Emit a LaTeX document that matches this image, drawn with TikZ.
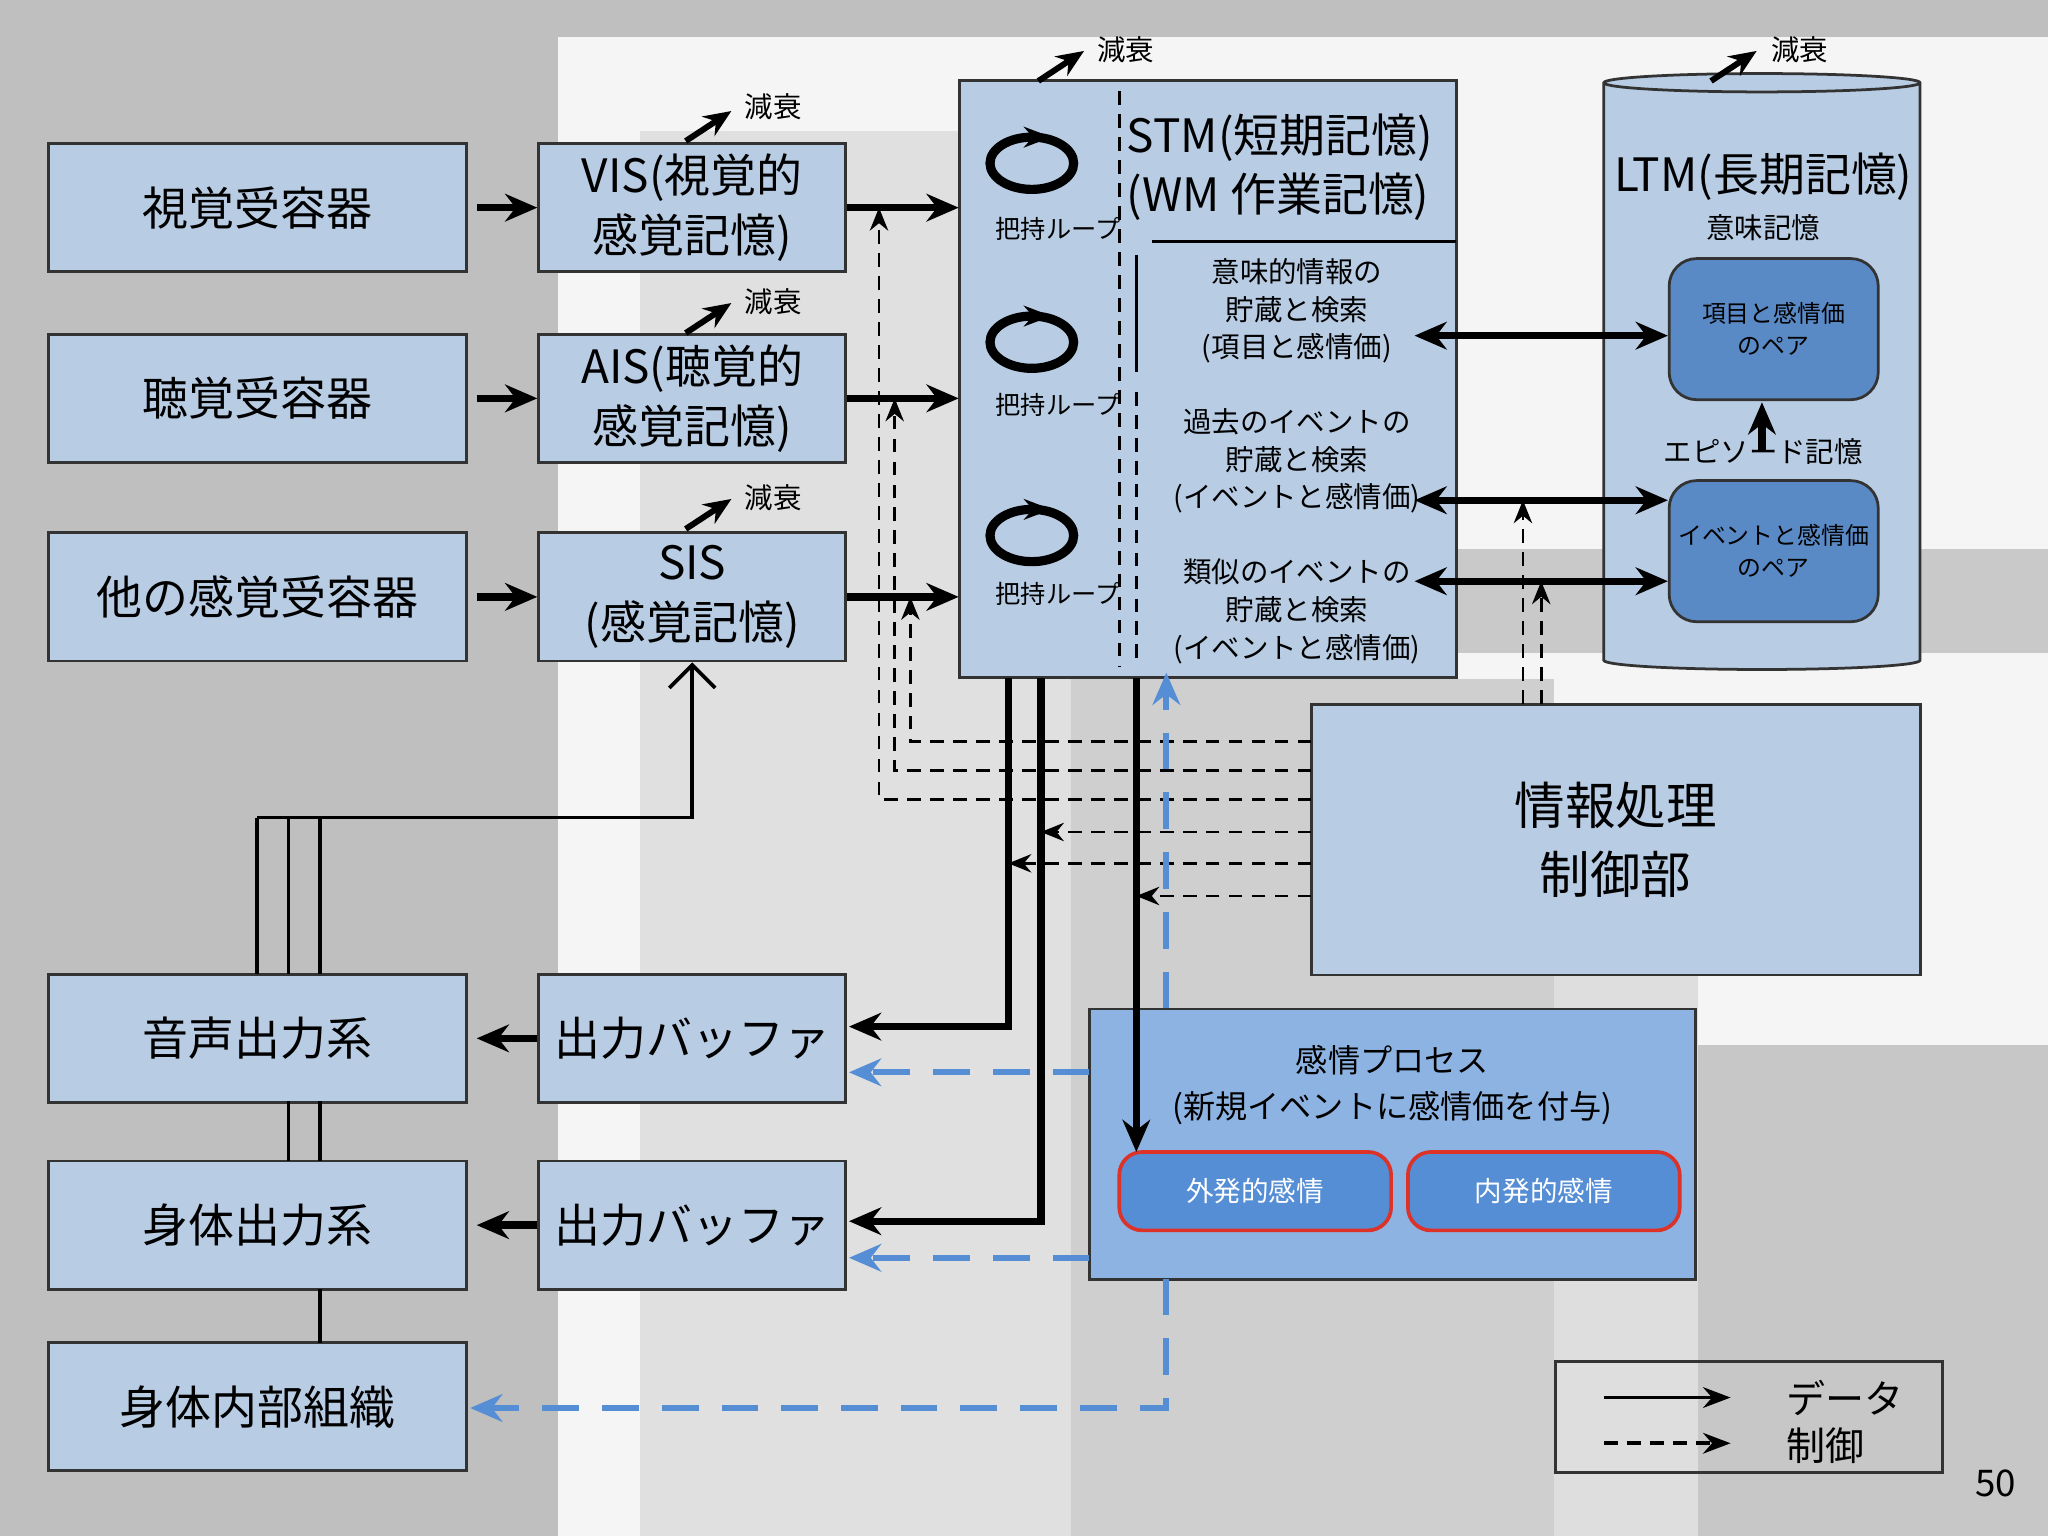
\documentclass[tikz,border=0pt]{standalone}
\usepackage{fontspec}
\setmainfont{Noto Sans CJK JP}
\usetikzlibrary{arrows.meta,shapes.geometric}
\begin{document}
\begin{tikzpicture}[x=0.01cm,y=-0.01cm,
 box/.style={draw=black!80,fill={rgb,255:red,184;green,204;blue,228},line width=0.6pt,inner sep=0pt,align=center},
 big/.style={font=\fontsize{10}{13}\selectfont},
 sm/.style={font=\fontsize{6.2}{8.2}\selectfont,align=center},
 tiny/.style={font=\fontsize{5.5}{7}\selectfont,align=center},
 da/.style={-{Stealth[length=7pt,width=6pt]},line width=1.6pt},
 ctl/.style={densely dashed,-{Stealth[length=5pt,width=4pt]},line width=0.6pt},
 emo/.style={dashed,dash pattern=on 8pt off 5pt,-{Stealth[length=7pt,width=6pt]},line width=1.3pt,color={rgb,255:red,85;green,142;blue,213}},
 decay/.style={-{Stealth[length=6pt,width=5pt]},line width=1.3pt},
 rec/.style={box,big,minimum width=3.2cm,minimum height=0.98cm},
 sen/.style={box,big,minimum width=2.35cm,minimum height=0.98cm},
 pair/.style={draw=black!80,fill={rgb,255:red,90;green,138;blue,198},rounded corners=6pt,minimum width=1.6cm,minimum height=1.08cm,inner sep=1pt,font=\fontsize{5.2}{7}\selectfont,align=center,line width=0.6pt},
 emob/.style={draw={rgb,255:red,220;green,50;blue,40},fill={rgb,255:red,85;green,142;blue,213},rounded corners=5pt,minimum width=2.08cm,minimum height=0.6cm,text=white,font=\fontsize{6}{8}\selectfont,line width=0.8pt}]
\useasboundingbox (0,0) rectangle (1568,1176);
\fill[black!25] (0,0) rectangle (1568,1176);
\fill[black!4] (427,28) rectangle (1568,1176);
\fill[black!12] (490,100) rectangle (820,1176);
\fill[black!19] (820,520) rectangle (1190,1176);
\fill[black!21] (1115,420) rectangle (1568,500);
\fill[black!22] (1300,800) rectangle (1568,1176);
\fill[black!13] (1190,700) rectangle (1300,1176);
% receptors
\node[rec] (r1) at (197,159) {視覚受容器};
\node[rec] (r2) at (197,305) {聴覚受容器};
\node[rec] (r3) at (197,457) {他の感覚受容器};
\node[sen] (vis) at (530,159) {VIS(視覚的\\感覚記憶)};
\node[sen] (ais) at (530,305) {AIS(聴覚的\\感覚記憶)};
\node[sen] (sis) at (530,457) {SIS\\(感覚記憶)};
% STM
\node[box,minimum width=3.8cm,minimum height=4.57cm] (stm) at (925,290) {};
\draw[densely dashed,line width=0.6pt] (857,70) -- (857,510);
\draw[line width=0.6pt] (870,195) -- (870,285);
\draw[densely dashed,line width=0.6pt] (870,300) -- (870,510);
\draw[line width=0.6pt] (882,185) -- (1115,185);
\node[big,align=left,anchor=west,inner sep=0pt] (stmt) at (862,128) {STM(短期記憶)\\(WM 作業記憶)};
\foreach \y in {125,262,410}{
 \draw[line width=2pt] (790,\y) ellipse [x radius=0.32cm, y radius=0.2cm];
 \draw[line width=1.3pt,-{Stealth[length=6pt]}] (785,\y-20) -- (805,\y-20);
}
\node[tiny] (h1) at (810,175) {把持ループ};
\node[tiny] (h2) at (810,310) {把持ループ};
\node[tiny] (h3) at (810,455) {把持ループ};
\node[sm] (s1) at (993,238) {意味的情報の\\貯蔵と検索\\(項目と感情価)};
\node[sm] (s2) at (993,353) {過去のイベントの\\貯蔵と検索\\(イベントと感情価)};
\node[sm] (s3) at (993,468) {類似のイベントの\\貯蔵と検索\\(イベントと感情価)};
% LTM
\node[cylinder,shape border rotate=90,draw=black!80,fill={rgb,255:red,184;green,204;blue,228},minimum width=2.42cm,minimum height=4.56cm,aspect=0.6,line width=0.6pt] (ltm) at (1349,290) {};
\node[big] (ltmt) at (1350,135) {LTM(長期記憶)};
\node[sm] (imi) at (1350,174) {意味記憶};
\node[sm] (epi) at (1350,346) {エピソード記憶};
\node[pair] (p1) at (1358,252) {項目と感情価\\のペア};
\node[pair] (p2) at (1358,422) {イベントと感情価\\のペア};
\draw[da] (1349,345) -- (1349,308);
% decay
\foreach \x/\y in {525/108,525/255,525/405,795/62,1310/62}{
 \draw[decay] (\x,\y) -- (\x+35,\y-23);
}
\node[sm] at (592,82) {減衰};
\node[sm] at (592,231) {減衰};
\node[sm] at (592,381) {減衰};
\node[sm] at (862,38) {減衰};
\node[sm] at (1378,38) {減衰};
% control
\node[box,font=\fontsize{11}{15}\selectfont,minimum width=4.66cm,minimum height=2.07cm] (ctrl) at (1237,643) {情報処理\\制御部};
% emotion
\node[draw=black!80,fill={rgb,255:red,141;green,179;blue,226},minimum width=4.64cm,minimum height=2.07cm,line width=0.6pt] (emo) at (1066,876) {};
\node[font=\fontsize{7}{10}\selectfont,align=center] (emot) at (1066,831) {感情プロセス\\(新規イベントに感情価を付与)};
\node[emob] (ex) at (961,912) {外発的感情};
\node[emob] (in) at (1182,912) {内発的感情};
% outputs
\node[rec] (o1) at (197,795) {音声出力系};
\node[rec] (o2) at (197,938) {身体出力系};
\node[rec] (o3) at (197,1077) {身体内部組織};
\node[sen] (b1) at (530,795) {出力バッファ};
\node[sen] (b2) at (530,938) {出力バッファ};
% arrows receptors
\draw[da] (365,159) -- (vis.west);
\draw[da] (365,305) -- (ais.west);
\draw[da] (365,457) -- (sis.west);
\draw[da] (vis.east) -- (734,159);
\draw[da] (ais.east) -- (734,305);
\draw[da] (sis.east) -- (734,457);
\draw[da,{Stealth[length=7pt,width=6pt]}-{Stealth[length=7pt,width=6pt]}] (1083,257) -- (1277,257);
\draw[da,{Stealth[length=7pt,width=6pt]}-{Stealth[length=7pt,width=6pt]}] (1083,383) -- (1277,383);
\draw[da,{Stealth[length=7pt,width=6pt]}-{Stealth[length=7pt,width=6pt]}] (1083,445) -- (1277,445);
% control dashed
\draw[ctl] (1004,612) -- (673,612) -- (673,159);
\draw[ctl] (1004,590) -- (685,590) -- (685,305);
\draw[ctl] (1004,568) -- (697,568) -- (697,457);
\draw[ctl] (1004,637) -- (797,637);
\draw[ctl] (1004,661) -- (772,661);
\draw[ctl] (1004,686) -- (870,686);
\draw[ctl] (1166,539) -- (1166,383);
\draw[ctl] (1180,539) -- (1180,445);
% STM outputs
\draw[da] (772,519) -- (772,786) -- (650,786);
\draw[da] (797,519) -- (797,935) -- (650,935);
\draw[da] (870,519) -- (870,882);
% emotion dashed
\draw[emo] (834,821) -- (650,821);
\draw[emo] (834,963) -- (650,963);
\draw[emo] (893,772) -- (893,515);
\draw[emo] (893,979) -- (893,1078) -- (360,1078);
% buffers to outputs
\draw[da] (b1.west) -- (365,795);
\draw[da] (b2.west) -- (365,938);
% feedback
\draw[line width=0.8pt] (197,746) -- (197,626);
\draw[line width=0.8pt] (221,746) -- (221,626);
\draw[line width=0.8pt] (245,746) -- (245,626);
\draw[line width=0.8pt,-{Straight Barb[length=5pt]}] (197,626) -- (530,626) -- (sis.south);
\draw[line width=0.8pt] (221,843) -- (221,889);
\draw[line width=0.8pt] (245,843) -- (245,889);
\draw[line width=0.8pt] (245,987) -- (245,1028);
% legend
\node[draw=black!80,line width=0.6pt,minimum width=2.96cm,minimum height=0.85cm] (leg) at (1339,1085) {};
\draw[line width=0.8pt,-{Stealth[length=6pt]}] (1228,1070) -- (1325,1070);
\draw[densely dashed,line width=0.8pt,-{Stealth[length=6pt]}] (1228,1105) -- (1325,1105);
\node[font=\fontsize{8.5}{10}\selectfont,anchor=west] (l1) at (1355,1070) {データ};
\node[font=\fontsize{8.5}{10}\selectfont,anchor=west] (l2) at (1355,1107) {制御};
\node[font=\fontsize{8}{10}\selectfont] (pg) at (1528,1136) {50};
\end{tikzpicture}
\end{document}
